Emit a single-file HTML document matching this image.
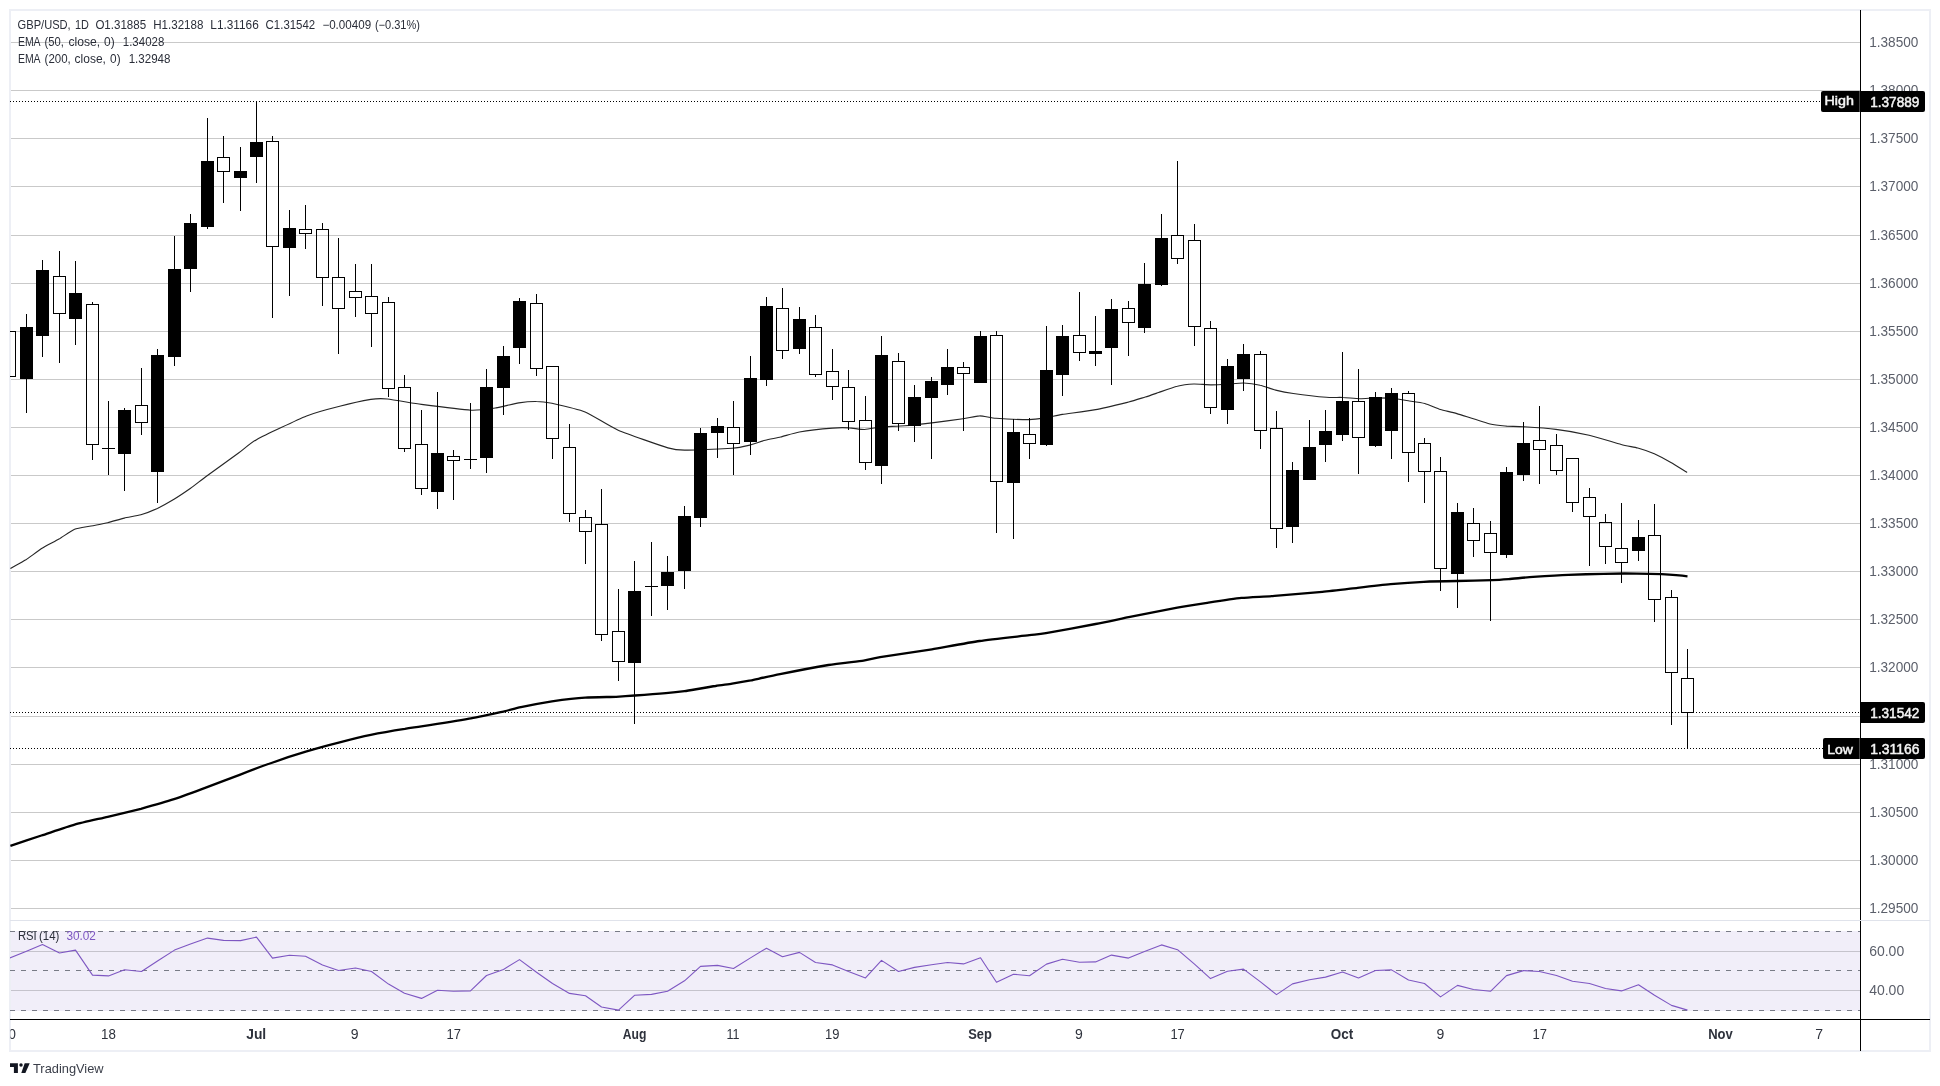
<!DOCTYPE html><html><head><meta charset="utf-8"><title>GBP/USD</title>
<style>html,body{margin:0;padding:0;background:#fff;overflow:hidden;}svg{display:block;}text{font-family:"Liberation Sans",sans-serif;}</style></head><body>
<svg width="1940" height="1086" viewBox="0 0 1940 1086" style="will-change:transform">
<rect width="1940" height="1086" fill="#fff"/>
<defs><clipPath id="cp"><rect x="10" y="10" width="1850" height="1010"/></clipPath></defs>
<rect x="10" y="10" width="1920" height="1041" fill="none" stroke="#edeff5" stroke-width="2"/>
<rect x="11" y="931" width="1849" height="80" fill="#f1eef9"/>
<g shape-rendering="crispEdges">
<rect x="11" y="42" width="1849" height="1" fill="#c9c9c9"/>
<rect x="11" y="90" width="1849" height="1" fill="#c9c9c9"/>
<rect x="11" y="138" width="1849" height="1" fill="#c9c9c9"/>
<rect x="11" y="186" width="1849" height="1" fill="#c9c9c9"/>
<rect x="11" y="235" width="1849" height="1" fill="#c9c9c9"/>
<rect x="11" y="283" width="1849" height="1" fill="#c9c9c9"/>
<rect x="11" y="331" width="1849" height="1" fill="#c9c9c9"/>
<rect x="11" y="379" width="1849" height="1" fill="#c9c9c9"/>
<rect x="11" y="427" width="1849" height="1" fill="#c9c9c9"/>
<rect x="11" y="475" width="1849" height="1" fill="#c9c9c9"/>
<rect x="11" y="523" width="1849" height="1" fill="#c9c9c9"/>
<rect x="11" y="571" width="1849" height="1" fill="#c9c9c9"/>
<rect x="11" y="619" width="1849" height="1" fill="#c9c9c9"/>
<rect x="11" y="667" width="1849" height="1" fill="#c9c9c9"/>
<rect x="11" y="716" width="1849" height="1" fill="#c9c9c9"/>
<rect x="11" y="764" width="1849" height="1" fill="#c9c9c9"/>
<rect x="11" y="812" width="1849" height="1" fill="#c9c9c9"/>
<rect x="11" y="860" width="1849" height="1" fill="#c9c9c9"/>
<rect x="11" y="908" width="1849" height="1" fill="#c9c9c9"/>
<rect x="11" y="951" width="1849" height="1" fill="#c5c3cc"/>
<rect x="11" y="990" width="1849" height="1" fill="#c5c3cc"/>
<line x1="10" y1="931.5" x2="1860" y2="931.5" stroke="#787b86" stroke-width="1" stroke-dasharray="5 6"/>
<line x1="10" y1="970.5" x2="1860" y2="970.5" stroke="#787b86" stroke-width="1" stroke-dasharray="5 6"/>
<line x1="10" y1="1010.5" x2="1860" y2="1010.5" stroke="#787b86" stroke-width="1" stroke-dasharray="5 6"/>
</g>
<g clip-path="url(#cp)" fill="none" stroke-linejoin="round">
<path d="M10.4,568.5 C11.9,567.6 22.7,561.8 25.9,559.8 C29.1,557.7 39.2,550.0 42.5,548.0 C45.8,545.9 55.8,540.9 59.0,539.0 C62.2,537.2 71.4,530.6 74.6,529.3 C77.8,528.0 87.8,526.7 91.1,526.0 C94.5,525.3 104.4,523.5 107.7,522.7 C111.0,521.9 121.0,518.9 124.3,518.1 C127.6,517.3 137.5,515.8 140.9,514.8 C144.2,513.8 154.1,509.9 157.4,508.4 C160.7,506.8 170.7,501.3 174.0,499.3 C177.3,497.3 187.3,490.6 190.6,488.3 C193.9,485.9 202.4,479.2 207.1,475.7 C211.9,472.2 233.2,456.9 238.2,453.3 C243.2,449.7 250.0,443.2 256.9,439.4 C263.7,435.7 298.3,419.3 306.6,416.0 C314.9,412.7 333.3,407.9 339.7,406.3 C346.1,404.6 366.0,400.2 370.8,399.4 C375.6,398.7 382.3,398.5 387.4,399.0 C392.4,399.5 413.1,403.2 421.4,404.4 C429.8,405.5 463.7,409.8 471.1,410.2 C478.6,410.5 491.2,408.6 496.0,407.9 C500.8,407.1 514.7,403.5 518.8,402.9 C522.8,402.3 533.1,401.4 536.4,401.5 C539.7,401.5 547.1,402.3 551.9,403.3 C556.8,404.4 578.4,409.3 585.1,412.0 C591.7,414.7 609.9,426.7 618.2,430.2 C626.5,433.8 661.3,445.9 667.9,447.9 C674.6,449.8 678.1,450.1 684.5,450.1 C690.9,450.2 725.7,448.7 732.1,448.3 C738.6,447.8 745.4,446.2 748.7,445.4 C752.0,444.6 762.1,441.0 765.3,440.2 C768.5,439.4 777.3,437.8 780.7,437.0 C784.1,436.2 794.2,432.9 799.4,432.0 C804.5,431.1 827.5,428.5 832.5,428.1 C837.5,427.7 845.9,427.7 849.1,427.9 C852.3,428.0 861.3,429.6 864.6,429.5 C867.9,429.4 878.2,427.2 882.2,426.8 C886.3,426.5 900.0,426.2 905.0,425.8 C910.0,425.4 926.1,423.6 931.9,422.9 C937.7,422.2 958.2,419.5 963.0,418.8 C967.8,418.1 976.3,415.9 979.6,415.9 C982.9,415.8 991.2,418.0 996.1,418.3 C1001.1,418.7 1024.3,419.6 1029.3,419.6 C1034.3,419.5 1042.5,418.2 1045.9,417.7 C1049.2,417.2 1057.5,415.2 1062.4,414.4 C1067.4,413.6 1088.9,410.9 1095.6,409.6 C1102.2,408.4 1123.7,403.2 1128.7,402.0 C1133.7,400.7 1142.3,397.9 1145.3,397.0 C1148.3,396.1 1155.4,393.6 1158.6,392.5 C1161.8,391.4 1173.8,387.1 1177.3,386.3 C1180.8,385.4 1190.5,384.2 1193.9,384.0 C1197.2,383.9 1207.1,384.8 1210.4,384.8 C1213.7,384.9 1223.7,384.4 1227.0,384.2 C1230.3,384.0 1240.3,382.9 1243.6,383.0 C1246.9,383.1 1256.8,384.5 1260.1,385.3 C1263.5,386.0 1273.4,389.6 1276.7,390.4 C1280.0,391.3 1288.3,392.9 1293.3,393.5 C1298.3,394.2 1321.5,396.9 1326.4,397.3 C1331.4,397.7 1339.7,397.3 1343.0,397.5 C1346.3,397.6 1356.3,398.7 1359.6,398.7 C1362.9,398.8 1372.9,397.9 1376.1,397.9 C1379.4,397.9 1388.5,398.0 1391.7,398.3 C1394.9,398.6 1404.9,400.3 1408.3,400.8 C1411.6,401.3 1421.6,402.6 1424.8,403.5 C1428.0,404.4 1437.2,408.5 1440.4,409.5 C1443.6,410.5 1452.0,412.2 1456.9,413.6 C1461.9,415.1 1485.1,422.8 1490.1,424.0 C1495.0,425.2 1503.3,425.8 1506.6,426.1 C1510.0,426.3 1518.3,426.4 1523.2,426.7 C1528.1,427.0 1549.3,428.5 1555.9,429.4 C1562.5,430.2 1582.5,433.7 1589.1,435.2 C1595.6,436.7 1616.3,443.2 1621.2,444.5 C1626.0,445.8 1634.4,447.1 1637.8,448.0 C1641.1,448.9 1651.0,452.4 1654.3,453.8 C1657.6,455.3 1667.6,460.6 1670.9,462.5 C1674.2,464.4 1685.4,471.5 1687.1,472.5" stroke="#262626" stroke-width="1.15"/>
<path d="M10.4,845.8 C13.5,844.8 35.0,837.6 41.4,835.5 C47.9,833.4 67.9,826.6 74.6,824.7 C81.2,822.8 101.1,818.4 107.7,816.8 C114.3,815.2 134.2,810.5 140.9,808.8 C147.5,807.0 167.4,801.4 174.0,799.2 C180.6,797.1 200.5,789.7 207.1,787.2 C213.8,784.7 233.9,777.0 240.3,774.6 C246.7,772.1 264.7,765.3 271.4,763.0 C278.0,760.6 299.7,753.4 306.6,751.4 C313.4,749.3 333.3,743.9 339.7,742.3 C346.1,740.6 364.3,736.1 370.8,734.8 C377.3,733.5 399.8,729.7 404.9,728.9 C409.9,728.0 415.0,727.4 421.4,726.4 C427.9,725.4 460.8,720.2 469.1,718.7 C477.4,717.2 499.1,712.4 504.3,711.3 C509.5,710.1 516.1,708.1 520.9,707.1 C525.6,706.1 545.5,702.3 551.9,701.3 C558.4,700.4 578.7,698.0 585.1,697.6 C591.5,697.1 611.2,697.0 616.1,696.8 C621.1,696.5 629.8,695.9 634.8,695.5 C639.8,695.2 660.9,693.7 665.9,693.2 C670.8,692.8 679.5,691.9 684.5,691.2 C689.5,690.4 710.8,686.7 715.6,686.0 C720.3,685.2 728.6,684.3 732.1,683.7 C735.7,683.1 746.0,681.3 750.8,680.4 C755.6,679.4 772.2,675.7 780.0,674.2 C787.8,672.6 820.0,666.4 828.4,665.0 C836.7,663.6 858.4,661.4 863.6,660.6 C868.8,659.9 873.3,658.3 880.1,657.1 C887.0,656.0 922.0,650.9 931.9,649.3 C941.9,647.6 969.8,642.4 979.6,641.0 C989.3,639.6 1022.7,636.0 1029.3,635.2 C1035.9,634.4 1039.2,634.2 1045.9,633.1 C1052.5,632.0 1087.3,625.6 1095.6,624.0 C1103.9,622.4 1120.5,618.8 1128.7,617.1 C1136.9,615.5 1169.3,609.1 1177.3,607.7 C1185.3,606.2 1201.9,603.7 1208.4,602.7 C1214.8,601.7 1234.9,598.6 1241.5,597.9 C1248.1,597.3 1266.6,596.5 1274.6,595.9 C1282.7,595.3 1314.0,592.7 1322.3,591.9 C1330.6,591.1 1350.7,588.6 1357.5,587.8 C1364.3,587.0 1384.0,584.7 1390.6,584.1 C1397.3,583.5 1417.2,582.1 1423.8,581.8 C1430.4,581.5 1450.1,581.1 1456.9,581.0 C1463.8,580.8 1487.0,580.3 1492.1,580.1 C1497.3,579.9 1504.6,579.4 1508.7,579.1 C1512.8,578.8 1527.2,577.3 1533.1,576.9 C1539.1,576.5 1561.3,575.1 1568.4,574.8 C1575.4,574.5 1596.7,573.9 1603.6,573.8 C1610.4,573.6 1630.9,573.5 1636.7,573.6 C1642.5,573.6 1656.5,573.9 1661.6,574.2 C1666.6,574.5 1684.9,576.0 1687.5,576.3" stroke="#000" stroke-width="2.3"/>
<path d="M9.5,958.1 L26.5,951.3 L42.5,944.5 L59.5,953.0 L75.5,950.1 L92.5,975.1 L108.5,975.9 L124.5,969.7 L141.5,971.5 L157.5,961.0 L174.5,950.1 L190.5,944.1 L207.5,938.1 L223.5,940.4 L240.5,940.6 L256.5,937.1 L272.5,958.1 L289.5,955.3 L305.5,956.3 L322.5,964.9 L338.5,970.5 L355.5,968.0 L371.5,971.5 L388.5,984.1 L404.5,993.2 L421.5,998.4 L437.5,990.3 L453.5,991.3 L470.5,990.9 L486.5,975.5 L503.5,969.5 L519.5,959.6 L536.5,972.2 L552.5,983.5 L569.5,993.4 L585.5,995.7 L601.5,1007.0 L618.5,1010.1 L634.5,995.3 L651.5,994.4 L667.5,991.3 L684.5,980.8 L700.5,966.4 L717.5,965.4 L733.5,968.5 L750.5,957.9 L766.5,948.2 L782.5,956.7 L799.5,952.4 L815.5,962.5 L832.5,964.9 L848.5,971.5 L865.5,977.9 L881.5,960.4 L898.5,971.5 L914.5,967.4 L931.5,964.7 L947.5,962.5 L963.5,963.9 L980.5,957.7 L996.5,982.3 L1013.5,974.2 L1029.5,975.7 L1046.5,964.1 L1062.5,959.2 L1079.5,962.3 L1095.5,961.9 L1111.5,955.1 L1128.5,958.1 L1144.5,951.5 L1161.5,944.9 L1177.5,949.7 L1194.5,964.1 L1210.5,978.6 L1227.5,971.3 L1243.5,969.1 L1260.5,981.9 L1276.5,994.6 L1292.5,983.9 L1309.5,979.8 L1325.5,977.1 L1342.5,972.0 L1358.5,977.9 L1375.5,970.5 L1391.5,969.9 L1408.5,980.0 L1424.5,983.5 L1440.5,996.9 L1457.5,985.4 L1473.5,989.5 L1490.5,991.3 L1506.5,975.6 L1523.5,970.6 L1539.5,971.5 L1556.5,975.5 L1572.5,981.2 L1589.5,983.5 L1605.5,988.5 L1621.5,990.9 L1638.5,984.7 L1654.5,995.3 L1671.5,1005.4 L1687.5,1010.1" stroke="#7e57c2" stroke-width="1.1"/>
</g>
<g clip-path="url(#cp)" shape-rendering="crispEdges" fill="#000">
<rect x="3" y="331" width="13" height="1"/><rect x="3" y="376" width="13" height="1"/><rect x="3" y="331" width="1" height="46"/><rect x="15" y="331" width="1" height="46"/>
<rect x="20" y="327" width="13" height="52"/>
<rect x="26" y="314" width="1" height="13"/>
<rect x="26" y="379" width="1" height="34"/>
<rect x="36" y="270" width="13" height="66"/>
<rect x="42" y="260" width="1" height="10"/>
<rect x="42" y="336" width="1" height="21"/>
<rect x="53" y="276" width="13" height="1"/><rect x="53" y="313" width="13" height="1"/><rect x="53" y="276" width="1" height="38"/><rect x="65" y="276" width="1" height="38"/>
<rect x="59" y="251" width="1" height="25"/>
<rect x="59" y="314" width="1" height="49"/>
<rect x="69" y="293" width="13" height="26"/>
<rect x="75" y="261" width="1" height="32"/>
<rect x="75" y="319" width="1" height="26"/>
<rect x="86" y="304" width="13" height="1"/><rect x="86" y="444" width="13" height="1"/><rect x="86" y="304" width="1" height="141"/><rect x="98" y="304" width="1" height="141"/>
<rect x="92" y="302" width="1" height="2"/>
<rect x="92" y="445" width="1" height="15"/>
<rect x="102" y="448" width="13" height="1"/>
<rect x="108" y="401" width="1" height="74"/>
<rect x="118" y="410" width="13" height="44"/>
<rect x="124" y="408" width="1" height="2"/>
<rect x="124" y="454" width="1" height="37"/>
<rect x="135" y="405" width="13" height="1"/><rect x="135" y="422" width="13" height="1"/><rect x="135" y="405" width="1" height="18"/><rect x="147" y="405" width="1" height="18"/>
<rect x="141" y="368" width="1" height="37"/>
<rect x="141" y="423" width="1" height="12"/>
<rect x="151" y="355" width="13" height="117"/>
<rect x="157" y="349" width="1" height="6"/>
<rect x="157" y="472" width="1" height="31"/>
<rect x="168" y="269" width="13" height="88"/>
<rect x="174" y="236" width="1" height="33"/>
<rect x="174" y="357" width="1" height="9"/>
<rect x="184" y="223" width="13" height="46"/>
<rect x="190" y="214" width="1" height="9"/>
<rect x="190" y="269" width="1" height="23"/>
<rect x="201" y="161" width="13" height="66"/>
<rect x="207" y="118" width="1" height="43"/>
<rect x="207" y="227" width="1" height="2"/>
<rect x="217" y="157" width="13" height="1"/><rect x="217" y="171" width="13" height="1"/><rect x="217" y="157" width="1" height="15"/><rect x="229" y="157" width="1" height="15"/>
<rect x="223" y="136" width="1" height="21"/>
<rect x="223" y="172" width="1" height="31"/>
<rect x="234" y="171" width="13" height="7"/>
<rect x="240" y="147" width="1" height="24"/>
<rect x="240" y="178" width="1" height="33"/>
<rect x="250" y="142" width="13" height="15"/>
<rect x="256" y="101" width="1" height="41"/>
<rect x="256" y="157" width="1" height="26"/>
<rect x="266" y="141" width="13" height="1"/><rect x="266" y="246" width="13" height="1"/><rect x="266" y="141" width="1" height="106"/><rect x="278" y="141" width="1" height="106"/>
<rect x="272" y="136" width="1" height="5"/>
<rect x="272" y="247" width="1" height="71"/>
<rect x="283" y="228" width="13" height="20"/>
<rect x="289" y="210" width="1" height="18"/>
<rect x="289" y="248" width="1" height="48"/>
<rect x="299" y="229" width="13" height="1"/><rect x="299" y="233" width="13" height="1"/><rect x="299" y="229" width="1" height="5"/><rect x="311" y="229" width="1" height="5"/>
<rect x="305" y="205" width="1" height="24"/>
<rect x="305" y="234" width="1" height="15"/>
<rect x="316" y="229" width="13" height="1"/><rect x="316" y="277" width="13" height="1"/><rect x="316" y="229" width="1" height="49"/><rect x="328" y="229" width="1" height="49"/>
<rect x="322" y="223" width="1" height="6"/>
<rect x="322" y="278" width="1" height="28"/>
<rect x="332" y="277" width="13" height="1"/><rect x="332" y="308" width="13" height="1"/><rect x="332" y="277" width="1" height="32"/><rect x="344" y="277" width="1" height="32"/>
<rect x="338" y="238" width="1" height="39"/>
<rect x="338" y="309" width="1" height="45"/>
<rect x="349" y="291" width="13" height="1"/><rect x="349" y="297" width="13" height="1"/><rect x="349" y="291" width="1" height="7"/><rect x="361" y="291" width="1" height="7"/>
<rect x="355" y="264" width="1" height="27"/>
<rect x="355" y="298" width="1" height="19"/>
<rect x="365" y="296" width="13" height="1"/><rect x="365" y="313" width="13" height="1"/><rect x="365" y="296" width="1" height="18"/><rect x="377" y="296" width="1" height="18"/>
<rect x="371" y="264" width="1" height="32"/>
<rect x="371" y="314" width="1" height="33"/>
<rect x="382" y="302" width="13" height="1"/><rect x="382" y="388" width="13" height="1"/><rect x="382" y="302" width="1" height="87"/><rect x="394" y="302" width="1" height="87"/>
<rect x="388" y="297" width="1" height="5"/>
<rect x="388" y="389" width="1" height="8"/>
<rect x="398" y="387" width="13" height="1"/><rect x="398" y="448" width="13" height="1"/><rect x="398" y="387" width="1" height="62"/><rect x="410" y="387" width="1" height="62"/>
<rect x="404" y="375" width="1" height="12"/>
<rect x="404" y="449" width="1" height="3"/>
<rect x="415" y="444" width="13" height="1"/><rect x="415" y="488" width="13" height="1"/><rect x="415" y="444" width="1" height="45"/><rect x="427" y="444" width="1" height="45"/>
<rect x="421" y="410" width="1" height="34"/>
<rect x="421" y="489" width="1" height="6"/>
<rect x="431" y="453" width="13" height="39"/>
<rect x="437" y="392" width="1" height="61"/>
<rect x="437" y="492" width="1" height="17"/>
<rect x="447" y="456" width="13" height="1"/><rect x="447" y="460" width="13" height="1"/><rect x="447" y="456" width="1" height="5"/><rect x="459" y="456" width="1" height="5"/>
<rect x="453" y="450" width="1" height="6"/>
<rect x="453" y="461" width="1" height="39"/>
<rect x="464" y="459" width="13" height="1"/>
<rect x="470" y="403" width="1" height="66"/>
<rect x="480" y="387" width="13" height="71"/>
<rect x="486" y="369" width="1" height="18"/>
<rect x="486" y="458" width="1" height="15"/>
<rect x="497" y="356" width="13" height="32"/>
<rect x="503" y="346" width="1" height="10"/>
<rect x="503" y="388" width="1" height="27"/>
<rect x="513" y="301" width="13" height="47"/>
<rect x="519" y="298" width="1" height="3"/>
<rect x="519" y="348" width="1" height="16"/>
<rect x="530" y="303" width="13" height="1"/><rect x="530" y="368" width="13" height="1"/><rect x="530" y="303" width="1" height="66"/><rect x="542" y="303" width="1" height="66"/>
<rect x="536" y="294" width="1" height="9"/>
<rect x="536" y="369" width="1" height="7"/>
<rect x="546" y="366" width="13" height="1"/><rect x="546" y="438" width="13" height="1"/><rect x="546" y="366" width="1" height="73"/><rect x="558" y="366" width="1" height="73"/>
<rect x="552" y="439" width="1" height="20"/>
<rect x="563" y="447" width="13" height="1"/><rect x="563" y="513" width="13" height="1"/><rect x="563" y="447" width="1" height="67"/><rect x="575" y="447" width="1" height="67"/>
<rect x="569" y="424" width="1" height="23"/>
<rect x="569" y="514" width="1" height="8"/>
<rect x="579" y="517" width="13" height="1"/><rect x="579" y="531" width="13" height="1"/><rect x="579" y="517" width="1" height="15"/><rect x="591" y="517" width="1" height="15"/>
<rect x="585" y="510" width="1" height="7"/>
<rect x="585" y="532" width="1" height="32"/>
<rect x="595" y="524" width="13" height="1"/><rect x="595" y="634" width="13" height="1"/><rect x="595" y="524" width="1" height="111"/><rect x="607" y="524" width="1" height="111"/>
<rect x="601" y="489" width="1" height="35"/>
<rect x="601" y="635" width="1" height="6"/>
<rect x="612" y="631" width="13" height="1"/><rect x="612" y="661" width="13" height="1"/><rect x="612" y="631" width="1" height="31"/><rect x="624" y="631" width="1" height="31"/>
<rect x="618" y="589" width="1" height="42"/>
<rect x="618" y="662" width="1" height="19"/>
<rect x="628" y="591" width="13" height="72"/>
<rect x="634" y="561" width="1" height="30"/>
<rect x="634" y="663" width="1" height="61"/>
<rect x="645" y="586" width="13" height="1"/>
<rect x="651" y="542" width="1" height="74"/>
<rect x="661" y="572" width="13" height="14"/>
<rect x="667" y="556" width="1" height="16"/>
<rect x="667" y="586" width="1" height="24"/>
<rect x="678" y="516" width="13" height="55"/>
<rect x="684" y="506" width="1" height="10"/>
<rect x="684" y="571" width="1" height="18"/>
<rect x="694" y="433" width="13" height="85"/>
<rect x="700" y="428" width="1" height="5"/>
<rect x="700" y="518" width="1" height="9"/>
<rect x="711" y="426" width="13" height="7"/>
<rect x="717" y="418" width="1" height="8"/>
<rect x="717" y="433" width="1" height="25"/>
<rect x="727" y="427" width="13" height="1"/><rect x="727" y="443" width="13" height="1"/><rect x="727" y="427" width="1" height="17"/><rect x="739" y="427" width="1" height="17"/>
<rect x="733" y="401" width="1" height="26"/>
<rect x="733" y="444" width="1" height="31"/>
<rect x="744" y="378" width="13" height="64"/>
<rect x="750" y="356" width="1" height="22"/>
<rect x="750" y="442" width="1" height="13"/>
<rect x="760" y="306" width="13" height="74"/>
<rect x="766" y="297" width="1" height="9"/>
<rect x="766" y="380" width="1" height="6"/>
<rect x="776" y="308" width="13" height="1"/><rect x="776" y="350" width="13" height="1"/><rect x="776" y="308" width="1" height="43"/><rect x="788" y="308" width="1" height="43"/>
<rect x="782" y="288" width="1" height="20"/>
<rect x="782" y="351" width="1" height="8"/>
<rect x="793" y="319" width="13" height="30"/>
<rect x="799" y="307" width="1" height="12"/>
<rect x="799" y="349" width="1" height="5"/>
<rect x="809" y="327" width="13" height="1"/><rect x="809" y="374" width="13" height="1"/><rect x="809" y="327" width="1" height="48"/><rect x="821" y="327" width="1" height="48"/>
<rect x="815" y="315" width="1" height="12"/>
<rect x="815" y="375" width="1" height="2"/>
<rect x="826" y="371" width="13" height="1"/><rect x="826" y="386" width="13" height="1"/><rect x="826" y="371" width="1" height="16"/><rect x="838" y="371" width="1" height="16"/>
<rect x="832" y="349" width="1" height="22"/>
<rect x="832" y="387" width="1" height="13"/>
<rect x="842" y="387" width="13" height="1"/><rect x="842" y="421" width="13" height="1"/><rect x="842" y="387" width="1" height="35"/><rect x="854" y="387" width="1" height="35"/>
<rect x="848" y="370" width="1" height="17"/>
<rect x="848" y="422" width="1" height="8"/>
<rect x="859" y="420" width="13" height="1"/><rect x="859" y="462" width="13" height="1"/><rect x="859" y="420" width="1" height="43"/><rect x="871" y="420" width="1" height="43"/>
<rect x="865" y="396" width="1" height="24"/>
<rect x="865" y="463" width="1" height="7"/>
<rect x="875" y="355" width="13" height="111"/>
<rect x="881" y="336" width="1" height="19"/>
<rect x="881" y="466" width="1" height="18"/>
<rect x="892" y="361" width="13" height="1"/><rect x="892" y="423" width="13" height="1"/><rect x="892" y="361" width="1" height="63"/><rect x="904" y="361" width="1" height="63"/>
<rect x="898" y="353" width="1" height="8"/>
<rect x="898" y="424" width="1" height="7"/>
<rect x="908" y="397" width="13" height="29"/>
<rect x="914" y="385" width="1" height="12"/>
<rect x="914" y="426" width="1" height="16"/>
<rect x="925" y="381" width="13" height="17"/>
<rect x="931" y="377" width="1" height="4"/>
<rect x="931" y="398" width="1" height="61"/>
<rect x="941" y="367" width="13" height="18"/>
<rect x="947" y="349" width="1" height="18"/>
<rect x="947" y="385" width="1" height="10"/>
<rect x="957" y="367" width="13" height="1"/><rect x="957" y="373" width="13" height="1"/><rect x="957" y="367" width="1" height="7"/><rect x="969" y="367" width="1" height="7"/>
<rect x="963" y="362" width="1" height="5"/>
<rect x="963" y="374" width="1" height="57"/>
<rect x="974" y="336" width="13" height="47"/>
<rect x="980" y="331" width="1" height="5"/>
<rect x="990" y="335" width="13" height="1"/><rect x="990" y="481" width="13" height="1"/><rect x="990" y="335" width="1" height="147"/><rect x="1002" y="335" width="1" height="147"/>
<rect x="996" y="331" width="1" height="4"/>
<rect x="996" y="482" width="1" height="51"/>
<rect x="1007" y="432" width="13" height="51"/>
<rect x="1013" y="419" width="1" height="13"/>
<rect x="1013" y="483" width="1" height="56"/>
<rect x="1023" y="434" width="13" height="1"/><rect x="1023" y="443" width="13" height="1"/><rect x="1023" y="434" width="1" height="10"/><rect x="1035" y="434" width="1" height="10"/>
<rect x="1029" y="418" width="1" height="16"/>
<rect x="1029" y="444" width="1" height="15"/>
<rect x="1040" y="370" width="13" height="75"/>
<rect x="1046" y="326" width="1" height="44"/>
<rect x="1046" y="445" width="1" height="1"/>
<rect x="1056" y="336" width="13" height="39"/>
<rect x="1062" y="325" width="1" height="11"/>
<rect x="1062" y="375" width="1" height="21"/>
<rect x="1073" y="335" width="13" height="1"/><rect x="1073" y="352" width="13" height="1"/><rect x="1073" y="335" width="1" height="18"/><rect x="1085" y="335" width="1" height="18"/>
<rect x="1079" y="292" width="1" height="43"/>
<rect x="1079" y="353" width="1" height="8"/>
<rect x="1089" y="351" width="13" height="3"/>
<rect x="1095" y="316" width="1" height="35"/>
<rect x="1095" y="354" width="1" height="12"/>
<rect x="1105" y="309" width="13" height="39"/>
<rect x="1111" y="299" width="1" height="10"/>
<rect x="1111" y="348" width="1" height="37"/>
<rect x="1122" y="308" width="13" height="1"/><rect x="1122" y="322" width="13" height="1"/><rect x="1122" y="308" width="1" height="15"/><rect x="1134" y="308" width="1" height="15"/>
<rect x="1128" y="301" width="1" height="7"/>
<rect x="1128" y="323" width="1" height="33"/>
<rect x="1138" y="284" width="13" height="44"/>
<rect x="1144" y="263" width="1" height="21"/>
<rect x="1144" y="328" width="1" height="5"/>
<rect x="1155" y="238" width="13" height="47"/>
<rect x="1161" y="214" width="1" height="24"/>
<rect x="1161" y="285" width="1" height="1"/>
<rect x="1171" y="235" width="13" height="1"/><rect x="1171" y="258" width="13" height="1"/><rect x="1171" y="235" width="1" height="24"/><rect x="1183" y="235" width="1" height="24"/>
<rect x="1177" y="161" width="1" height="74"/>
<rect x="1177" y="259" width="1" height="5"/>
<rect x="1188" y="240" width="13" height="1"/><rect x="1188" y="326" width="13" height="1"/><rect x="1188" y="240" width="1" height="87"/><rect x="1200" y="240" width="1" height="87"/>
<rect x="1194" y="224" width="1" height="16"/>
<rect x="1194" y="327" width="1" height="19"/>
<rect x="1204" y="328" width="13" height="1"/><rect x="1204" y="407" width="13" height="1"/><rect x="1204" y="328" width="1" height="80"/><rect x="1216" y="328" width="1" height="80"/>
<rect x="1210" y="321" width="1" height="7"/>
<rect x="1210" y="408" width="1" height="6"/>
<rect x="1221" y="366" width="13" height="44"/>
<rect x="1227" y="359" width="1" height="7"/>
<rect x="1227" y="410" width="1" height="14"/>
<rect x="1237" y="354" width="13" height="25"/>
<rect x="1243" y="344" width="1" height="10"/>
<rect x="1243" y="379" width="1" height="12"/>
<rect x="1254" y="354" width="13" height="1"/><rect x="1254" y="430" width="13" height="1"/><rect x="1254" y="354" width="1" height="77"/><rect x="1266" y="354" width="1" height="77"/>
<rect x="1260" y="351" width="1" height="3"/>
<rect x="1260" y="431" width="1" height="18"/>
<rect x="1270" y="428" width="13" height="1"/><rect x="1270" y="528" width="13" height="1"/><rect x="1270" y="428" width="1" height="101"/><rect x="1282" y="428" width="1" height="101"/>
<rect x="1276" y="411" width="1" height="17"/>
<rect x="1276" y="529" width="1" height="19"/>
<rect x="1286" y="470" width="13" height="57"/>
<rect x="1292" y="462" width="1" height="8"/>
<rect x="1292" y="527" width="1" height="16"/>
<rect x="1303" y="447" width="13" height="33"/>
<rect x="1309" y="420" width="1" height="27"/>
<rect x="1319" y="431" width="13" height="14"/>
<rect x="1325" y="410" width="1" height="21"/>
<rect x="1325" y="445" width="1" height="17"/>
<rect x="1336" y="401" width="13" height="34"/>
<rect x="1342" y="352" width="1" height="49"/>
<rect x="1342" y="435" width="1" height="6"/>
<rect x="1352" y="401" width="13" height="1"/><rect x="1352" y="437" width="13" height="1"/><rect x="1352" y="401" width="1" height="37"/><rect x="1364" y="401" width="1" height="37"/>
<rect x="1358" y="369" width="1" height="32"/>
<rect x="1358" y="438" width="1" height="36"/>
<rect x="1369" y="397" width="13" height="49"/>
<rect x="1375" y="392" width="1" height="5"/>
<rect x="1375" y="446" width="1" height="1"/>
<rect x="1385" y="393" width="13" height="38"/>
<rect x="1391" y="388" width="1" height="5"/>
<rect x="1391" y="431" width="1" height="28"/>
<rect x="1402" y="393" width="13" height="1"/><rect x="1402" y="452" width="13" height="1"/><rect x="1402" y="393" width="1" height="60"/><rect x="1414" y="393" width="1" height="60"/>
<rect x="1408" y="391" width="1" height="2"/>
<rect x="1408" y="453" width="1" height="29"/>
<rect x="1418" y="443" width="13" height="1"/><rect x="1418" y="471" width="13" height="1"/><rect x="1418" y="443" width="1" height="29"/><rect x="1430" y="443" width="1" height="29"/>
<rect x="1424" y="438" width="1" height="5"/>
<rect x="1424" y="472" width="1" height="31"/>
<rect x="1434" y="471" width="13" height="1"/><rect x="1434" y="568" width="13" height="1"/><rect x="1434" y="471" width="1" height="98"/><rect x="1446" y="471" width="1" height="98"/>
<rect x="1440" y="457" width="1" height="14"/>
<rect x="1440" y="569" width="1" height="22"/>
<rect x="1451" y="512" width="13" height="62"/>
<rect x="1457" y="503" width="1" height="9"/>
<rect x="1457" y="574" width="1" height="34"/>
<rect x="1467" y="523" width="13" height="1"/><rect x="1467" y="540" width="13" height="1"/><rect x="1467" y="523" width="1" height="18"/><rect x="1479" y="523" width="1" height="18"/>
<rect x="1473" y="508" width="1" height="15"/>
<rect x="1473" y="541" width="1" height="16"/>
<rect x="1484" y="533" width="13" height="1"/><rect x="1484" y="552" width="13" height="1"/><rect x="1484" y="533" width="1" height="20"/><rect x="1496" y="533" width="1" height="20"/>
<rect x="1490" y="521" width="1" height="12"/>
<rect x="1490" y="553" width="1" height="68"/>
<rect x="1500" y="472" width="13" height="83"/>
<rect x="1506" y="467" width="1" height="5"/>
<rect x="1506" y="555" width="1" height="3"/>
<rect x="1517" y="443" width="13" height="32"/>
<rect x="1523" y="422" width="1" height="21"/>
<rect x="1523" y="475" width="1" height="6"/>
<rect x="1533" y="440" width="13" height="1"/><rect x="1533" y="449" width="13" height="1"/><rect x="1533" y="440" width="1" height="10"/><rect x="1545" y="440" width="1" height="10"/>
<rect x="1539" y="406" width="1" height="34"/>
<rect x="1539" y="450" width="1" height="34"/>
<rect x="1550" y="445" width="13" height="1"/><rect x="1550" y="470" width="13" height="1"/><rect x="1550" y="445" width="1" height="26"/><rect x="1562" y="445" width="1" height="26"/>
<rect x="1556" y="434" width="1" height="11"/>
<rect x="1556" y="471" width="1" height="4"/>
<rect x="1566" y="458" width="13" height="1"/><rect x="1566" y="502" width="13" height="1"/><rect x="1566" y="458" width="1" height="45"/><rect x="1578" y="458" width="1" height="45"/>
<rect x="1572" y="503" width="1" height="9"/>
<rect x="1583" y="497" width="13" height="1"/><rect x="1583" y="516" width="13" height="1"/><rect x="1583" y="497" width="1" height="20"/><rect x="1595" y="497" width="1" height="20"/>
<rect x="1589" y="488" width="1" height="9"/>
<rect x="1589" y="517" width="1" height="49"/>
<rect x="1599" y="522" width="13" height="1"/><rect x="1599" y="546" width="13" height="1"/><rect x="1599" y="522" width="1" height="25"/><rect x="1611" y="522" width="1" height="25"/>
<rect x="1605" y="514" width="1" height="8"/>
<rect x="1605" y="547" width="1" height="17"/>
<rect x="1615" y="548" width="13" height="1"/><rect x="1615" y="562" width="13" height="1"/><rect x="1615" y="548" width="1" height="15"/><rect x="1627" y="548" width="1" height="15"/>
<rect x="1621" y="503" width="1" height="45"/>
<rect x="1621" y="563" width="1" height="20"/>
<rect x="1632" y="537" width="13" height="14"/>
<rect x="1638" y="520" width="1" height="17"/>
<rect x="1638" y="551" width="1" height="10"/>
<rect x="1648" y="535" width="13" height="1"/><rect x="1648" y="599" width="13" height="1"/><rect x="1648" y="535" width="1" height="65"/><rect x="1660" y="535" width="1" height="65"/>
<rect x="1654" y="504" width="1" height="31"/>
<rect x="1654" y="600" width="1" height="22"/>
<rect x="1665" y="597" width="13" height="1"/><rect x="1665" y="672" width="13" height="1"/><rect x="1665" y="597" width="1" height="76"/><rect x="1677" y="597" width="1" height="76"/>
<rect x="1671" y="590" width="1" height="7"/>
<rect x="1671" y="673" width="1" height="52"/>
<rect x="1681" y="678" width="13" height="1"/><rect x="1681" y="712" width="13" height="1"/><rect x="1681" y="678" width="1" height="35"/><rect x="1693" y="678" width="1" height="35"/>
<rect x="1687" y="649" width="1" height="29"/>
<rect x="1687" y="713" width="1" height="35"/>
</g>
<g shape-rendering="crispEdges" stroke="#000" stroke-width="1" stroke-dasharray="1 2">
<line x1="10" y1="101.5" x2="1821" y2="101.5"/>
<line x1="10" y1="712.5" x2="1860" y2="712.5"/>
<line x1="10" y1="748.5" x2="1823" y2="748.5"/>
</g>
<g shape-rendering="crispEdges">
<rect x="1860" y="10" width="1" height="1041" fill="#000"/>
<rect x="10" y="1019" width="1920" height="1" fill="#000"/>
<rect x="10" y="920" width="1920" height="1" fill="#e0e3eb"/>
</g>
<text x="1869.2" y="46.6" font-size="14" fill="#5b5f6a" textLength="49.2" lengthAdjust="spacingAndGlyphs">1.38500</text>
<text x="1869.2" y="94.6" font-size="14" fill="#5b5f6a" textLength="49.2" lengthAdjust="spacingAndGlyphs">1.38000</text>
<text x="1869.2" y="142.6" font-size="14" fill="#5b5f6a" textLength="49.2" lengthAdjust="spacingAndGlyphs">1.37500</text>
<text x="1869.2" y="190.6" font-size="14" fill="#5b5f6a" textLength="49.2" lengthAdjust="spacingAndGlyphs">1.37000</text>
<text x="1869.2" y="239.6" font-size="14" fill="#5b5f6a" textLength="49.2" lengthAdjust="spacingAndGlyphs">1.36500</text>
<text x="1869.2" y="287.6" font-size="14" fill="#5b5f6a" textLength="49.2" lengthAdjust="spacingAndGlyphs">1.36000</text>
<text x="1869.2" y="335.6" font-size="14" fill="#5b5f6a" textLength="49.2" lengthAdjust="spacingAndGlyphs">1.35500</text>
<text x="1869.2" y="383.6" font-size="14" fill="#5b5f6a" textLength="49.2" lengthAdjust="spacingAndGlyphs">1.35000</text>
<text x="1869.2" y="431.6" font-size="14" fill="#5b5f6a" textLength="49.2" lengthAdjust="spacingAndGlyphs">1.34500</text>
<text x="1869.2" y="479.6" font-size="14" fill="#5b5f6a" textLength="49.2" lengthAdjust="spacingAndGlyphs">1.34000</text>
<text x="1869.2" y="527.6" font-size="14" fill="#5b5f6a" textLength="49.2" lengthAdjust="spacingAndGlyphs">1.33500</text>
<text x="1869.2" y="575.6" font-size="14" fill="#5b5f6a" textLength="49.2" lengthAdjust="spacingAndGlyphs">1.33000</text>
<text x="1869.2" y="623.6" font-size="14" fill="#5b5f6a" textLength="49.2" lengthAdjust="spacingAndGlyphs">1.32500</text>
<text x="1869.2" y="671.6" font-size="14" fill="#5b5f6a" textLength="49.2" lengthAdjust="spacingAndGlyphs">1.32000</text>
<text x="1869.2" y="720.6" font-size="14" fill="#5b5f6a" textLength="49.2" lengthAdjust="spacingAndGlyphs">1.31500</text>
<text x="1869.2" y="768.6" font-size="14" fill="#5b5f6a" textLength="49.2" lengthAdjust="spacingAndGlyphs">1.31000</text>
<text x="1869.2" y="816.6" font-size="14" fill="#5b5f6a" textLength="49.2" lengthAdjust="spacingAndGlyphs">1.30500</text>
<text x="1869.2" y="864.6" font-size="14" fill="#5b5f6a" textLength="49.2" lengthAdjust="spacingAndGlyphs">1.30000</text>
<text x="1869.2" y="912.6" font-size="14" fill="#5b5f6a" textLength="49.2" lengthAdjust="spacingAndGlyphs">1.29500</text>
<text x="1869.2" y="955.6" font-size="14" fill="#5b5f6a" textLength="35" lengthAdjust="spacingAndGlyphs">60.00</text>
<text x="1869.2" y="994.6" font-size="14" fill="#5b5f6a" textLength="35" lengthAdjust="spacingAndGlyphs">40.00</text>
<path d="M1823,91 h36 v21 h-36 a2,2 0 0 1 -2,-2 v-17 a2,2 0 0 1 2,-2z" fill="#000"/>
<path d="M1861,91 h62 a2,2 0 0 1 2,2 v17 a2,2 0 0 1 -2,2 h-62z" fill="#000"/>
<path d="M1861,702 h62 a2,2 0 0 1 2,2 v17 a2,2 0 0 1 -2,2 h-62z" fill="#000"/>
<path d="M1825,738 h34 v21 h-34 a2,2 0 0 1 -2,-2 v-17 a2,2 0 0 1 2,-2z" fill="#000"/>
<path d="M1861,738 h62 a2,2 0 0 1 2,2 v17 a2,2 0 0 1 -2,2 h-62z" fill="#000"/>
<rect x="1859" y="91" width="1" height="21" fill="#444"/><rect x="1859" y="738" width="1" height="21" fill="#444"/>
<text x="1824.5" y="104.6" font-size="13" fill="#f4f4f4" stroke="#f4f4f4" stroke-width="0.5" textLength="29.4" lengthAdjust="spacingAndGlyphs">High</text>
<text x="1870.2" y="106.7" font-size="14" fill="#f4f4f4" stroke="#f4f4f4" stroke-width="0.5" textLength="49.2" lengthAdjust="spacingAndGlyphs">1.37889</text>
<text x="1870.2" y="717.7" font-size="14" fill="#f4f4f4" stroke="#f4f4f4" stroke-width="0.5" textLength="49.2" lengthAdjust="spacingAndGlyphs">1.31542</text>
<text x="1827.3" y="753.7" font-size="13" fill="#f4f4f4" stroke="#f4f4f4" stroke-width="0.5" textLength="25.6" lengthAdjust="spacingAndGlyphs">Low</text>
<text x="1870.2" y="753.7" font-size="14" fill="#f4f4f4" stroke="#f4f4f4" stroke-width="0.5" textLength="49.2" lengthAdjust="spacingAndGlyphs">1.31166</text>
<text x="17.6" y="29" font-size="12" fill="#2a2e39" textLength="53.1" lengthAdjust="spacingAndGlyphs">GBP/USD,</text>
<text x="74.9" y="29" font-size="12" fill="#2a2e39" textLength="13.9" lengthAdjust="spacingAndGlyphs">1D</text>
<text x="95.4" y="29" font-size="12" fill="#2a2e39" textLength="50.7" lengthAdjust="spacingAndGlyphs">O1.31885</text>
<text x="153.2" y="29" font-size="12" fill="#2a2e39" textLength="50.2" lengthAdjust="spacingAndGlyphs">H1.32188</text>
<text x="210.3" y="29" font-size="12" fill="#2a2e39" textLength="48.5" lengthAdjust="spacingAndGlyphs">L1.31166</text>
<text x="265.6" y="29" font-size="12" fill="#2a2e39" textLength="49.6" lengthAdjust="spacingAndGlyphs">C1.31542</text>
<text x="322.4" y="29" font-size="12" fill="#2a2e39" textLength="48.7" lengthAdjust="spacingAndGlyphs">−0.00409</text>
<text x="374.9" y="29" font-size="12" fill="#2a2e39" textLength="45.1" lengthAdjust="spacingAndGlyphs">(−0.31%)</text>
<text x="17.9" y="45.7" font-size="12" fill="#2a2e39" textLength="22.7" lengthAdjust="spacingAndGlyphs">EMA</text>
<text x="44.6" y="45.7" font-size="12" fill="#2a2e39" textLength="19.3" lengthAdjust="spacingAndGlyphs">(50,</text>
<text x="68.4" y="45.7" font-size="12" fill="#2a2e39" textLength="31.8" lengthAdjust="spacingAndGlyphs">close,</text>
<text x="104.1" y="45.7" font-size="12" fill="#2a2e39" textLength="10.6" lengthAdjust="spacingAndGlyphs">0)</text>
<text x="122.8" y="45.7" font-size="12" fill="#2a2e39" textLength="41.5" lengthAdjust="spacingAndGlyphs">1.34028</text>
<text x="17.9" y="62.5" font-size="12" fill="#2a2e39" textLength="22.7" lengthAdjust="spacingAndGlyphs">EMA</text>
<text x="44.6" y="62.5" font-size="12" fill="#2a2e39" textLength="26.1" lengthAdjust="spacingAndGlyphs">(200,</text>
<text x="74.6" y="62.5" font-size="12" fill="#2a2e39" textLength="31.3" lengthAdjust="spacingAndGlyphs">close,</text>
<text x="110.1" y="62.5" font-size="12" fill="#2a2e39" textLength="10.5" lengthAdjust="spacingAndGlyphs">0)</text>
<text x="128.7" y="62.5" font-size="12" fill="#2a2e39" textLength="41.8" lengthAdjust="spacingAndGlyphs">1.32948</text>
<text x="18.0" y="939.6" font-size="12" fill="#2a2e39" textLength="18.7" lengthAdjust="spacingAndGlyphs">RSI</text>
<text x="39.0" y="939.6" font-size="12" fill="#2a2e39" textLength="20.4" lengthAdjust="spacingAndGlyphs">(14)</text>
<text x="66.4" y="939.6" font-size="12" fill="#7e57c2" textLength="29.5" lengthAdjust="spacingAndGlyphs">30.02</text>
<defs><clipPath id="cp2"><rect x="10.5" y="1020" width="40" height="30"/></clipPath></defs><g clip-path="url(#cp2)">
<text x="8.5" y="1038.6" font-size="14" fill="#2e323c" text-anchor="middle" textLength="14.8" lengthAdjust="spacingAndGlyphs">10</text>
</g>
<text x="108.5" y="1038.6" font-size="14" fill="#2e323c" text-anchor="middle" textLength="14.8" lengthAdjust="spacingAndGlyphs">18</text>
<text x="256.2" y="1038.6" font-size="14" fill="#2e323c" text-anchor="middle" font-weight="bold" textLength="20" lengthAdjust="spacingAndGlyphs">Jul</text>
<text x="354.6" y="1038.6" font-size="14" fill="#2e323c" text-anchor="middle">9</text>
<text x="453.7" y="1038.6" font-size="14" fill="#2e323c" text-anchor="middle" textLength="14.4" lengthAdjust="spacingAndGlyphs">17</text>
<text x="634.6" y="1038.6" font-size="14" fill="#2e323c" text-anchor="middle" font-weight="bold" textLength="23.6" lengthAdjust="spacingAndGlyphs">Aug</text>
<text x="733" y="1038.6" font-size="14" fill="#2e323c" text-anchor="middle" textLength="13" lengthAdjust="spacingAndGlyphs">11</text>
<text x="832.2" y="1038.6" font-size="14" fill="#2e323c" text-anchor="middle" textLength="14.4" lengthAdjust="spacingAndGlyphs">19</text>
<text x="980" y="1038.6" font-size="14" fill="#2e323c" text-anchor="middle" font-weight="bold" textLength="23.6" lengthAdjust="spacingAndGlyphs">Sep</text>
<text x="1078.8" y="1038.6" font-size="14" fill="#2e323c" text-anchor="middle">9</text>
<text x="1177.6" y="1038.6" font-size="14" fill="#2e323c" text-anchor="middle" textLength="14.4" lengthAdjust="spacingAndGlyphs">17</text>
<text x="1342" y="1038.6" font-size="14" fill="#2e323c" text-anchor="middle" font-weight="bold" textLength="22.4" lengthAdjust="spacingAndGlyphs">Oct</text>
<text x="1440.5" y="1038.6" font-size="14" fill="#2e323c" text-anchor="middle">9</text>
<text x="1539.7" y="1038.6" font-size="14" fill="#2e323c" text-anchor="middle" textLength="14.4" lengthAdjust="spacingAndGlyphs">17</text>
<text x="1720.5" y="1038.6" font-size="14" fill="#2e323c" text-anchor="middle" font-weight="bold" textLength="24.6" lengthAdjust="spacingAndGlyphs">Nov</text>
<text x="1819.2" y="1038.6" font-size="14" fill="#2e323c" text-anchor="middle">7</text>
<g fill="#131722"><path d="M10,1063.3 h7.9 v9.6 h-4 v-5.9 h-3.9z"/><circle cx="21" cy="1065" r="1.75"/><path d="M24.7,1063.3 h5 l-4.3,9.6 h-4.1z"/></g>
<text x="33" y="1072.9" font-size="13" fill="#3a3e49" textLength="70.6" lengthAdjust="spacingAndGlyphs">TradingView</text>
</svg></body></html>
